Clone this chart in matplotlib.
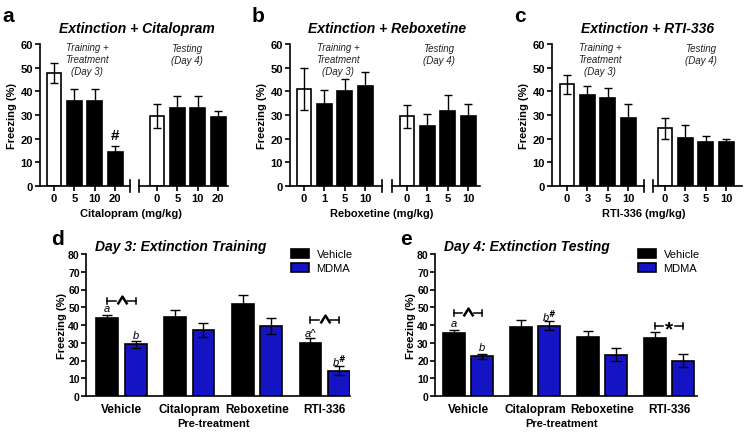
import matplotlib
matplotlib.use("Agg")
import matplotlib.pyplot as plt
import numpy as np
from matplotlib.transforms import blended_transform_factory

plt.rcParams['font.family'] = ['Liberation Sans', 'DejaVu Sans']
plt.rcParams['font.weight'] = 'bold'

# ---------------- data ----------------
cit_doses = ["0", "5", "10", "20"]
cit_train = [47.7, 36.0, 36.0, 14.3]
cit_train_err = [4.1, 4.8, 4.8, 2.5]
cit_test = [29.5, 32.9, 32.9, 29.2]
cit_test_err = [5.1, 5.0, 5.0, 2.7]

rebox_doses = ["0", "1", "5", "10"]
rebox_train = [41.0, 34.6, 40.3, 42.4]
rebox_train_err = [8.7, 5.9, 4.9, 5.8]
rebox_test = [29.5, 25.4, 31.6, 29.7]
rebox_test_err = [4.8, 5.2, 6.8, 4.9]

rti_doses = ["0", "3", "5", "10"]
rti_train = [43.0, 38.5, 37.1, 28.7]
rti_train_err = [4.0, 3.7, 4.1, 5.8]
rti_test = [24.4, 20.3, 18.8, 18.8]
rti_test_err = [4.5, 5.4, 2.4, 1.0]

pretreat = ["Vehicle", "Citalopram", "Reboxetine", "RTI-336"]
d3_vehicle = [43.8, 44.3, 52.0, 29.8]
d3_vehicle_err = [2.0, 4.3, 4.9, 2.6]
d3_mdma = [29.2, 37.1, 39.5, 14.3]
d3_mdma_err = [2.0, 3.9, 4.5, 2.7]
d4_vehicle = [35.4, 39.0, 33.5, 32.4]
d4_vehicle_err = [1.7, 3.6, 3.4, 3.4]
d4_mdma = [22.4, 39.5, 23.2, 20.0]
d4_mdma_err = [1.3, 2.5, 3.7, 3.7]

BLUE = '#1414c4'
W, H = 750, 439
fig = plt.figure(figsize=(W / 100, H / 100), dpi=100)


def px(l, t, r, b):
    return [l / W, 1 - b / H, (r - l) / W, (b - t) / H]


def ftext(x, y, s, **kw):
    fig.text(x / W, 1 - y / H, s, **kw)


LW = 1.2


def style_ax(ax, left=True):
    for sp in ['top', 'right']:
        ax.spines[sp].set_visible(False)
    ax.spines['left'].set_visible(left)
    ax.spines['bottom'].set_linewidth(LW)
    ax.spines['left'].set_linewidth(LW)
    ax.tick_params(axis='both', width=LW, length=3.5, labelsize=8, pad=1.5,
                   direction='out')
    for lab in ax.get_xticklabels() + ax.get_yticklabels():
        lab.set_fontweight('bold')
    if not left:
        ax.tick_params(axis='y', left=False, labelleft=False)


def break_mark(ax, xa):
    tr = blended_transform_factory(ax.transAxes, ax.transAxes)
    h = 6 / (187 - 45)
    ax.plot([xa, xa], [-h, h], color='black', lw=LW, transform=tr,
            clip_on=False)


def top_panel(letter, title, drug, doses, train, train_err, test, test_err,
              spine, c0, brk, s2, c0b, end, title_x):
    sp = 20.4
    ax1 = fig.add_axes(px(spine, 45, brk, 187))
    ax2 = fig.add_axes(px(s2, 45, end, 187))
    x = np.arange(len(doses))
    for ax, vals, errs, cc, l, r in [(ax1, train, train_err, c0, spine, brk),
                                     (ax2, test, test_err, c0b, s2, end)]:
        colors = ['white'] + ['black'] * (len(vals) - 1)
        ax.bar(x, vals, width=0.72, color=colors, edgecolor='black',
               linewidth=LW, yerr=errs, capsize=2.8,
               error_kw=dict(elinewidth=1.0, capthick=1.0, ecolor='black'),
               zorder=2)
        ax.set_xlim((l - cc) / sp, (r - cc) / sp)
        ax.set_ylim(0, 60)
        ax.set_yticks(np.arange(0, 61, 10))
        ax.set_xticks(x)
        ax.set_xticklabels(doses)
    style_ax(ax1, left=True)
    style_ax(ax2, left=False)
    break_mark(ax1, 1.0)
    break_mark(ax2, 0.0)
    # annotations
    ftext(spine + (brk - spine) / 2 + 2, 60, "Training +\nTreatment\n(Day 3)",
          ha='center', va='center', fontsize=7, style='italic',
          fontweight='normal', linespacing=1.2, color='#222222')
    ftext(s2 + (end - s2) / 2 + 3, 55, "Testing\n(Day 4)", ha='center',
          va='center', fontsize=7, style='italic', fontweight='normal',
          linespacing=1.2, color='#222222')
    ftext(title_x, 29, title, ha='center', va='center', fontsize=10,
          fontweight='bold', style='italic')
    ftext(spine - 28, 116, "Freezing (%)", rotation=90, ha='center',
          va='center', fontsize=8, fontweight='bold')
    ftext((spine + end) / 2 - 3, 214, drug + " (mg/kg)", ha='center',
          va='center', fontsize=8, fontweight='bold')
    ftext(spine - 32, 17, letter, ha='center', va='center', fontsize=15,
          fontweight='bold')
    return ax1, ax2


a1, a2 = top_panel('a', 'Extinction + Citalopram', 'Citalopram', cit_doses,
                   cit_train, cit_train_err, cit_test, cit_test_err,
                   40, 54, 130, 139, 157, 228, 137)
a1.text(3, 21.5, '#', ha='center', va='center', fontsize=11,
        fontweight='bold')
top_panel('b', 'Extinction + Reboxetine', 'Reboxetine', rebox_doses,
          rebox_train, rebox_train_err, rebox_test, rebox_test_err,
          290, 304, 382, 392, 407, 480, 387)
top_panel('c', 'Extinction + RTI-336', 'RTI-336', rti_doses,
          rti_train, rti_train_err, rti_test, rti_test_err,
          552, 567, 644, 653, 665, 742, 648)

CHEVRON = [(-1.0, -0.8), (0.0, 0.8), (1.0, -0.8)]


def bracket(ax, x1, x2, y, sym):
    xm = (x1 + x2) / 2
    g = (x2 - x1) * 0.2
    kw = dict(color='black', lw=1.1)
    ax.plot([x1, xm - g], [y, y], **kw)
    ax.plot([xm + g, x2], [y, y], **kw)
    ax.plot([x1, x1], [y - 1.8, y + 1.8], **kw)
    ax.plot([x2, x2], [y - 1.8, y + 1.8], **kw)
    if sym == '^':
        ax.plot([xm], [y + 0.6], marker=CHEVRON, markersize=7,
                markerfacecolor='none', markeredgecolor='black',
                markeredgewidth=1.8, linestyle='none')
    else:
        ax.text(xm, y - 1.6, sym, ha='center', va='center', fontsize=15,
                fontweight='bold')


def bottom_panel(letter, title, veh, veh_err, mdma, mdma_err, l, r, c0, sp,
                 legx):
    ax = fig.add_axes(px(l, 255, r, 397))
    x = np.arange(len(pretreat))
    off, bw = 0.21, 0.32
    ek = dict(elinewidth=1.0, capthick=1.0, ecolor='black')
    ax.bar(x - off, veh, width=bw, color='black', edgecolor='black',
           linewidth=LW, yerr=veh_err, capsize=3.5, error_kw=ek,
           label='Vehicle', zorder=2)
    ax.bar(x + off, mdma, width=bw, color=BLUE, edgecolor='black',
           linewidth=LW, yerr=mdma_err, capsize=3.5, error_kw=ek,
           label='MDMA', zorder=2)
    ax.set_xlim((l - c0) / sp, (r - c0) / sp)
    ax.set_ylim(0, 80)
    ax.set_yticks(np.arange(0, 81, 10))
    ax.set_xticks(x)
    ax.set_xticklabels(pretreat)
    style_ax(ax)
    ax.tick_params(axis='y', labelsize=7.5, pad=1)
    ax.tick_params(axis='x', length=0, pad=5, labelsize=8.5)
    for lab in ax.get_xticklabels() + ax.get_yticklabels():
        lab.set_fontweight('bold')
    leg = ax.legend(loc='upper left',
                    bbox_to_anchor=(legx / W, 1 - 250 / H),
                    bbox_transform=fig.transFigure, frameon=False,
                    fontsize=8, handlelength=1.6, handleheight=0.8,
                    labelspacing=0.35, handletextpad=0.7, borderpad=0,
                    borderaxespad=0)
    for t in leg.get_texts():
        t.set_fontweight('normal')
    ftext(l + 9, 247, title, ha='left', va='center', fontsize=10,
          fontweight='bold', style='italic')
    ftext(l - 24, 326, "Freezing (%)", rotation=90, ha='center',
          va='center', fontsize=8, fontweight='bold')
    ftext((l + r) / 2 - 4, 424, "Pre-treatment", ha='center', va='center',
          fontsize=8, fontweight='bold')
    ftext(l - 29, 240, letter, ha='center', va='center', fontsize=15,
          fontweight='bold')
    return ax


def italic(ax, x, y, s):
    ax.text(x, y, s, ha='center', va='center', fontsize=8, style='italic',
            fontweight='normal')


axd = bottom_panel('d', 'Day 3: Extinction Training', d3_vehicle,
                   d3_vehicle_err, d3_mdma, d3_mdma_err, 86, 350, 121.5, 67.7,
                   291)
bracket(axd, -0.21, 0.21, 53.5, '^')
italic(axd, -0.21, 49.5, 'a')
italic(axd, 0.21, 34.5, 'b')
bracket(axd, 2.79, 3.21, 42.8, '^')
italic(axd, 2.79, 35.5, 'a^')
italic(axd, 3.21, 20.0, 'b$^{\\#}$')

axe = bottom_panel('e', 'Day 4: Extinction Testing', d4_vehicle,
                   d4_vehicle_err, d4_mdma, d4_mdma_err, 435, 697, 468, 67,
                   638)
bracket(axe, -0.21, 0.21, 46.8, '^')
italic(axe, -0.21, 41.0, 'a')
italic(axe, 0.21, 27.6, 'b')
italic(axe, 1.21, 45.0, 'b$^{\\#}$')
bracket(axe, 2.79, 3.21, 39.5, '*')

fig.savefig('out.png', dpi=100)
